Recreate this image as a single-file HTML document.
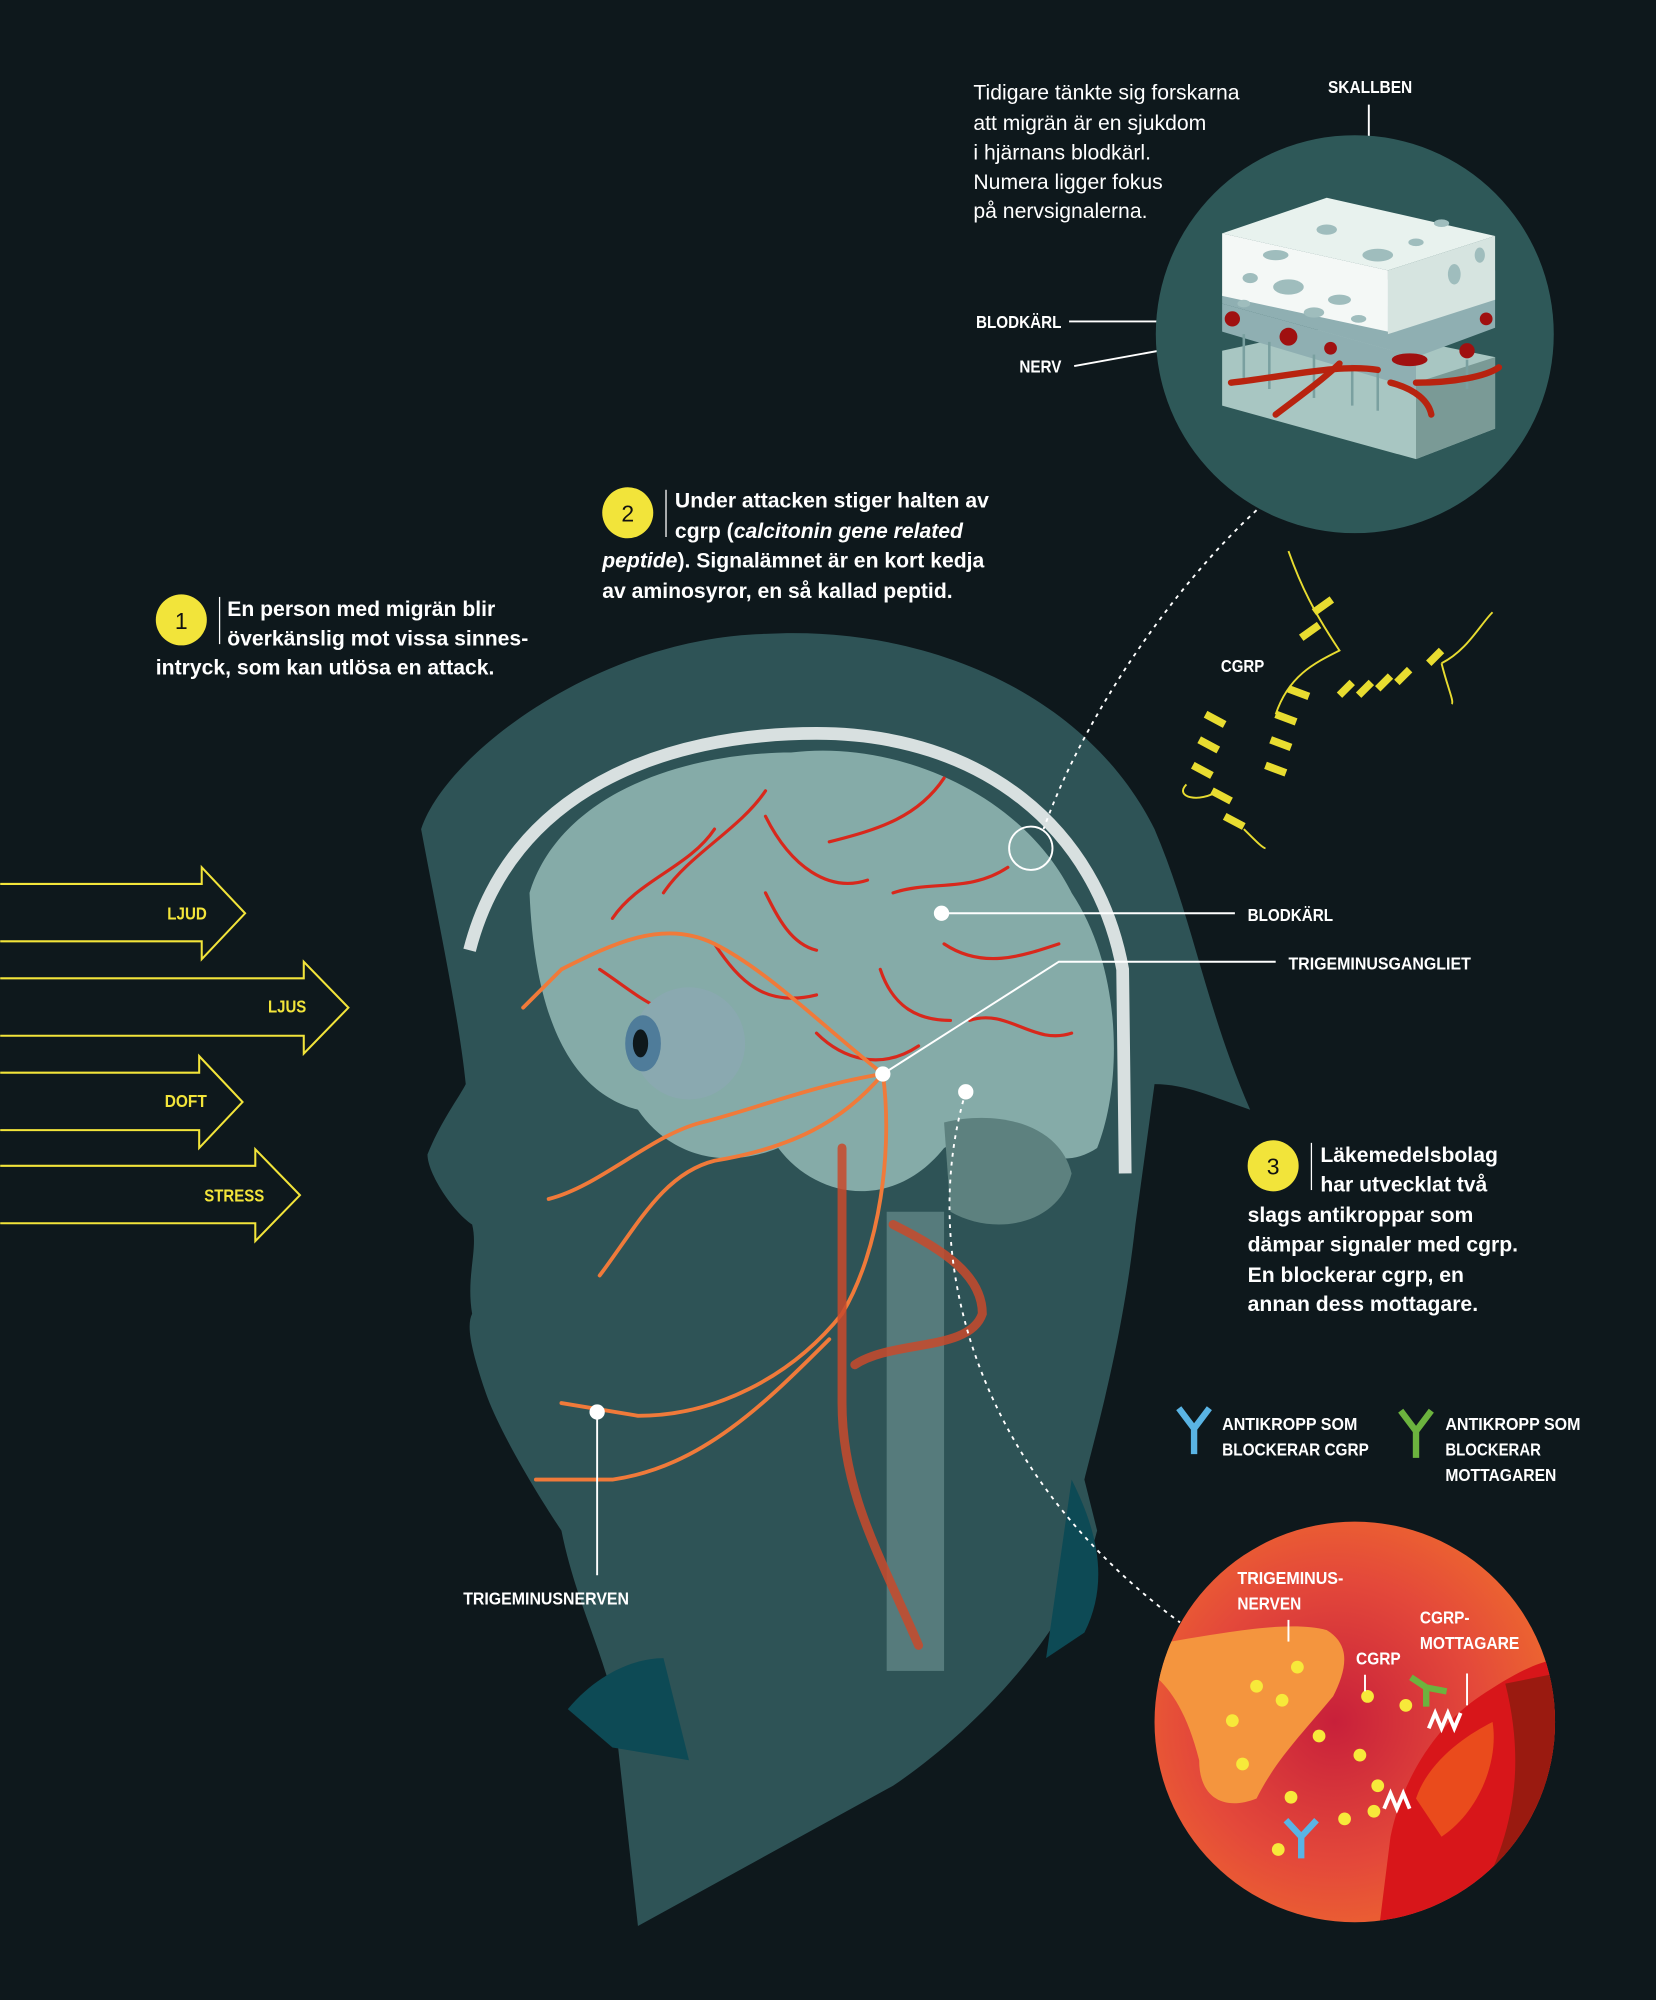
<!DOCTYPE html>
<html><head><meta charset="utf-8"><style>
html,body{margin:0;padding:0;background:#0e181c;}
svg{display:block}
.b{font-family:"Liberation Sans",sans-serif;font-weight:bold;fill:#fff;font-size:16.6px}
.r{font-family:"Liberation Sans",sans-serif;fill:#fff;font-size:16.6px}
.l{font-family:"Liberation Sans",sans-serif;font-weight:bold;fill:#fff;font-size:14px}
.y{fill:#f2e43a}
</style></head><body>
<svg width="1656" height="2000" viewBox="0 0 1298 1568" xmlns="http://www.w3.org/2000/svg">
<defs>
<radialGradient id="rg" cx="0.45" cy="0.5" r="0.6"><stop offset="0" stop-color="#c8203a"/><stop offset="0.6" stop-color="#e4493a"/><stop offset="1" stop-color="#ee6a2e"/></radialGradient>
<clipPath id="c2"><circle cx="1062" cy="1350" r="157"/></clipPath>
<clipPath id="c1"><circle cx="1062" cy="262" r="156"/></clipPath>
</defs>
<rect width="1298" height="1568" fill="#0e181c"/>

<!-- head -->
<path d="M600 497 C720 490 850 540 905 650 C935 720 945 790 980 870 C950 860 930 850 905 850 L890 960 C880 1050 860 1120 850 1160 L860 1200 C840 1280 760 1360 700 1400 L500 1510 L480 1330 C470 1290 450 1250 440 1200 C420 1170 390 1120 380 1090 C370 1060 365 1040 370 1030 C365 1000 375 980 370 960 C355 950 335 920 335 905 C345 880 360 860 365 850 C360 800 345 730 330 650 C350 590 470 500 600 497 Z" fill="#2e5356"/>
<path d="M445 1340 C470 1310 500 1300 520 1300 L540 1380 L480 1370 Z" fill="#0d4a55"/>
<path d="M840 1160 C860 1200 870 1240 850 1280 L820 1300 Z" fill="#0d4a55"/>

<!-- skull arc -->
<path d="M368 745 C400 620 520 575 640 575 C770 575 860 650 880 760 L882 920" fill="none" stroke="#d8e0e0" stroke-width="10"/>

<!-- brain -->
<path d="M415 700 C440 620 540 590 620 590 C700 580 800 620 840 700 C880 760 880 850 860 900 C830 920 800 900 780 880 L740 900 C700 950 640 940 610 900 C560 920 520 900 500 870 C460 860 420 820 415 700 Z" fill="#8fb5b1" opacity="0.9"/>
<path d="M740 880 C780 870 830 880 840 920 C830 960 780 970 745 950 Z" fill="#5d817f"/>
<rect x="695" y="950" width="45" height="360" fill="#7da4a2" opacity="0.5"/>

<!-- vessels -->
<g fill="none" stroke="#d8281c" stroke-width="2.5" stroke-linecap="round">
<path d="M480 720 C500 690 540 680 560 650"/><path d="M520 700 C540 670 580 650 600 620"/><path d="M600 640 C620 680 650 700 680 690"/>
<path d="M650 660 C690 650 720 640 740 610"/><path d="M700 700 C730 690 760 700 790 680"/><path d="M740 740 C770 760 800 750 830 740"/>
<path d="M760 800 C790 790 810 820 840 810"/><path d="M560 740 C580 770 600 790 640 780"/><path d="M640 810 C660 830 690 840 720 820"/>
<path d="M470 760 C500 780 520 800 540 790"/><path d="M600 700 C610 720 620 740 640 745"/><path d="M690 760 C700 790 720 800 745 800"/>
</g>
<g fill="none" stroke="#f07a3a" stroke-width="3" stroke-linecap="round">
<path d="M692 842 C640 800 600 760 560 740 C520 720 480 740 440 760 L410 790"/>
<path d="M692 842 C640 850 590 870 550 880 C510 890 470 930 430 940"/>
<path d="M692 842 C660 880 620 900 560 910 C520 920 500 960 470 1000"/>
<path d="M692 842 C700 900 690 980 660 1030 C620 1080 560 1110 500 1110 L440 1100"/>
<path d="M650 1050 C600 1100 550 1150 480 1160 L420 1160"/>
</g>
<g fill="none" stroke="#c84a2c" stroke-width="7" stroke-linecap="round" opacity="0.85">
<path d="M660 900 L660 1100 C660 1170 690 1220 720 1290"/>
<path d="M700 960 C740 980 770 1000 770 1030 C760 1060 700 1050 670 1070"/>
</g>

<!-- eye -->
<circle cx="540" cy="818" r="44" fill="#8aa9b0"/>
<ellipse cx="504" cy="818" rx="14" ry="22" fill="#4f7c9a"/>
<ellipse cx="502" cy="818" rx="6" ry="11" fill="#0e181c"/>

<!-- dots and leaders -->
<g stroke="#fff" stroke-width="1.5" fill="none">
<line x1="738" y1="716" x2="968" y2="716"/>
<polyline points="692,842 830,754 1000,754"/>
<line x1="468" y1="1107" x2="468" y2="1235"/>
<circle cx="808" cy="665" r="17"/>
<path d="M985 400 C920 460 850 560 818 650" stroke-dasharray="3,4"/>
<path d="M757 856 C720 980 760 1150 925 1272" stroke-dasharray="3,4"/>
<line x1="1073" y1="82" x2="1073" y2="160"/>
<line x1="838" y1="252" x2="962" y2="252"/>
<line x1="842" y1="287" x2="958" y2="266"/>
</g>
<circle cx="738" cy="716" r="6" fill="#fff"/><circle cx="692" cy="842" r="6" fill="#fff"/><circle cx="757" cy="856" r="6" fill="#fff"/><circle cx="468" cy="1107" r="6" fill="#fff"/>

<!-- arrows -->
<g fill="none" stroke="#f2e43a" stroke-width="1.6">
<path d="M0 693 H158 V680 L192 716 L158 752 V738 H0"/>
<path d="M0 767 H238 V754 L273 790 L238 826 V812 H0"/>
<path d="M0 841 H156 V828 L190 864 L156 900 V886 H0"/>
<path d="M0 914 H200 V901 L235 937 L200 973 V959 H0"/>
</g>
<text class="l y" x="131" y="721" textLength="31" lengthAdjust="spacingAndGlyphs">LJUD</text>
<text class="l y" x="210" y="794" textLength="30" lengthAdjust="spacingAndGlyphs">LJUS</text>
<text class="l y" x="129" y="868" textLength="33" lengthAdjust="spacingAndGlyphs">DOFT</text>
<text class="l y" x="160" y="942" textLength="47" lengthAdjust="spacingAndGlyphs">STRESS</text>

<!-- callouts -->
<circle cx="142" cy="486" r="20" fill="#f2e43a"/><text x="142" y="493" text-anchor="middle" style="font-family:'Liberation Sans';font-size:18px;fill:#111">1</text>
<line x1="172" y1="468" x2="172" y2="505" stroke="#fff"/>
<text class="b" x="178" y="483">En person med migrän blir</text>
<text class="b" x="178" y="506">överkänslig mot vissa sinnes-</text>
<text class="b" x="122" y="529">intryck, som kan utlösa en attack.</text>

<circle cx="492" cy="402" r="20" fill="#f2e43a"/><text x="492" y="409" text-anchor="middle" style="font-family:'Liberation Sans';font-size:18px;fill:#111">2</text>
<line x1="522" y1="384" x2="522" y2="421" stroke="#fff"/>
<text class="b" x="529" y="398">Under attacken stiger halten av</text>
<text class="b" x="529" y="422">cgrp (<tspan font-style="italic">calcitonin gene related</tspan></text>
<text class="b" x="472" y="445"><tspan font-style="italic">peptide</tspan>). Signalämnet är en kort kedja</text>
<text class="b" x="472" y="469">av aminosyror, en så kallad peptid.</text>

<circle cx="998" cy="914" r="20" fill="#f2e43a"/><text x="998" y="921" text-anchor="middle" style="font-family:'Liberation Sans';font-size:18px;fill:#111">3</text>
<line x1="1028" y1="896" x2="1028" y2="933" stroke="#fff"/>
<text class="b" x="1035" y="911">Läkemedelsbolag</text>
<text class="b" x="1035" y="934">har utvecklat två</text>
<text class="b" x="978" y="958">slags antikroppar som</text>
<text class="b" x="978" y="981">dämpar signaler med cgrp.</text>
<text class="b" x="978" y="1005">En blockerar cgrp, en</text>
<text class="b" x="978" y="1028">annan dess mottagare.</text>

<text class="r" x="763" y="78">Tidigare tänkte sig forskarna</text>
<text class="r" x="763" y="102">att migrän är en sjukdom</text>
<text class="r" x="763" y="125">i hjärnans blodkärl.</text>
<text class="r" x="763" y="148">Numera ligger fokus</text>
<text class="r" x="763" y="171">på nervsignalerna.</text>

<text class="l" x="1041" y="73" textLength="66" lengthAdjust="spacingAndGlyphs">SKALLBEN</text>
<text class="l" x="765" y="257" textLength="67" lengthAdjust="spacingAndGlyphs">BLODKÄRL</text>
<text class="l" x="799" y="292" textLength="33" lengthAdjust="spacingAndGlyphs">NERV</text>
<text class="l" x="978" y="722" textLength="67" lengthAdjust="spacingAndGlyphs">BLODKÄRL</text>
<text class="l" x="1010" y="760" textLength="143" lengthAdjust="spacingAndGlyphs">TRIGEMINUSGANGLIET</text>
<text class="l" x="363" y="1258" textLength="130" lengthAdjust="spacingAndGlyphs">TRIGEMINUSNERVEN</text>
<text class="l" x="957" y="527" textLength="34" lengthAdjust="spacingAndGlyphs">CGRP</text>

<!-- top circle -->
<circle cx="1062" cy="262" r="156" fill="#2e5858"/>
<g clip-path="url(#c1)">
<polygon points="958,318 1110,360 1172,336 1172,280 1050,255 958,275" fill="#a8c6c2"/>
<polygon points="1110,360 1172,336 1172,280 1110,300" fill="#7a9a96"/>
<polygon points="958,238 1110,280 1172,257 1172,212 958,230" fill="#8fafb2"/>
<polygon points="958,238 958,260 1110,305 1110,280" fill="#8fafb2"/>
<polygon points="958,183 1088,212 1172,185 1040,155" fill="#e8f2ee"/>
<polygon points="958,183 1088,212 1088,260 958,232" fill="#f4f8f6"/>
<polygon points="1088,212 1172,185 1172,235 1088,262" fill="#d6e4e0"/>
<g fill="#9fbdbd"><ellipse cx="1000" cy="200" rx="10" ry="4"/><ellipse cx="1040" cy="180" rx="8" ry="4"/><ellipse cx="1080" cy="200" rx="12" ry="5"/><ellipse cx="1110" cy="190" rx="6" ry="3"/><ellipse cx="1010" cy="225" rx="12" ry="6"/><ellipse cx="1050" cy="235" rx="9" ry="4"/><ellipse cx="980" cy="218" rx="6" ry="4"/><ellipse cx="1140" cy="215" rx="5" ry="8"/><ellipse cx="1030" cy="245" rx="8" ry="4"/><ellipse cx="975" cy="238" rx="5" ry="3"/><ellipse cx="1065" cy="250" rx="6" ry="3"/><ellipse cx="1130" cy="175" rx="6" ry="3"/><ellipse cx="1160" cy="200" rx="4" ry="6"/></g>
<g stroke="#7aa0a0" stroke-width="2"><line x1="975" y1="262" x2="975" y2="300"/><line x1="995" y1="268" x2="995" y2="305"/><line x1="1030" y1="278" x2="1030" y2="312"/><line x1="1060" y1="286" x2="1060" y2="318"/><line x1="1080" y1="290" x2="1080" y2="322"/><line x1="1150" y1="282" x2="1150" y2="305"/></g>
<g fill="none" stroke="#b8230f" stroke-width="5" stroke-linecap="round"><path d="M965 300 C1010 295 1050 285 1080 290"/><path d="M1000 325 C1020 310 1040 295 1050 285"/><path d="M1110 300 C1140 300 1165 295 1175 288"/><path d="M1090 300 C1110 305 1120 315 1122 325"/></g>
<g fill="#a01010"><circle cx="966" cy="250" r="6"/><circle cx="1010" cy="264" r="7"/><circle cx="1043" cy="273" r="5"/><ellipse cx="1105" cy="282" rx="14" ry="5"/><circle cx="1165" cy="250" r="5"/><circle cx="1150" cy="275" r="6"/></g>
</g>

<!-- CGRP helices -->
<g fill="none" stroke="#e8dc30" stroke-width="6">
<path d="M945 560 l15 8 M940 580 l15 8 M935 600 l15 8 M950 620 l15 8 M960 640 l15 8"/>
<path d="M1000 560 l16 6 M996 580 l16 6 M992 600 l16 6 M1010 540 l16 6 M1020 500 l14 -10 M1030 480 l14 -10"/>
<path d="M1050 545 l10 -10 M1065 545 l10 -10 M1080 540 l10 -10 M1095 535 l10 -10 M1120 520 l10 -10"/>
</g>
<g fill="none" stroke="#e8dc30" stroke-width="1.5"><path d="M1010 432 C1020 460 1030 480 1050 510 C1030 520 1010 530 1000 560"/><path d="M955 620 C940 630 920 625 930 615"/><path d="M1130 520 C1150 510 1160 490 1170 480 M1130 520 C1135 540 1140 550 1138 552"/><path d="M975 650 C985 660 990 665 992 665"/></g>

<!-- legend -->
<g stroke-width="5" fill="none" stroke-linecap="butt"><path d="M936 1140 V1120 L924 1104 M936 1120 L948 1104" stroke="#5ab4e4"/><path d="M1110 1143 V1122 L1098 1106 M1110 1122 L1122 1106" stroke="#6cb33e"/></g>
<text class="l" x="958" y="1121" textLength="106" lengthAdjust="spacingAndGlyphs">ANTIKROPP SOM</text><text class="l" x="958" y="1141" textLength="115" lengthAdjust="spacingAndGlyphs">BLOCKERAR CGRP</text>
<text class="l" x="1133" y="1121" textLength="106" lengthAdjust="spacingAndGlyphs">ANTIKROPP SOM</text><text class="l" x="1133" y="1141" textLength="75" lengthAdjust="spacingAndGlyphs">BLOCKERAR</text><text class="l" x="1133" y="1161" textLength="87" lengthAdjust="spacingAndGlyphs">MOTTAGAREN</text>

<!-- bottom circle -->
<circle cx="1062" cy="1350" r="157" fill="url(#rg)"/>
<g clip-path="url(#c2)">
<path d="M900 1290 C960 1280 1010 1270 1040 1278 C1060 1290 1055 1310 1045 1330 C1020 1360 1000 1380 985 1410 C960 1420 940 1410 940 1380 C930 1340 915 1320 900 1310 Z" fill="#f4953e"/>
<path d="M1090 1440 C1100 1390 1130 1350 1160 1330 C1190 1310 1210 1300 1230 1300 L1230 1520 L1080 1520 Z" fill="#d8161a"/>
<path d="M1110 1410 C1120 1380 1150 1360 1170 1350 C1175 1380 1160 1420 1130 1440 Z" fill="#ea4b1c"/>
<path d="M1180 1320 L1230 1310 L1230 1520 L1140 1520 C1180 1460 1200 1400 1180 1320 Z" fill="#9a1a10"/>
</g>
<g fill="#f7e93a"><circle cx="1017" cy="1307" r="5"/><circle cx="985" cy="1322" r="5"/><circle cx="1005" cy="1333" r="5"/><circle cx="966" cy="1349" r="5"/><circle cx="974" cy="1383" r="5"/><circle cx="1072" cy="1330" r="5"/><circle cx="1102" cy="1337" r="5"/><circle cx="1034" cy="1361" r="5"/><circle cx="1066" cy="1376" r="5"/><circle cx="1012" cy="1409" r="5"/><circle cx="1080" cy="1400" r="5"/><circle cx="1077" cy="1420" r="5"/><circle cx="1054" cy="1426" r="5"/><circle cx="1002" cy="1450" r="5"/></g>
<path d="M1020 1457 V1440 L1008 1427 M1020 1440 L1032 1427" stroke="#5ab4e4" stroke-width="5" fill="none"/>
<path d="M1118 1338 L1118 1323 L1106 1315 M1118 1323 L1134 1326" stroke="#6cb33e" stroke-width="5" fill="none"/>
<path d="M1120 1355 l5 -12 l5 12 l5 -12 l5 12 l5 -12" stroke="#fff" stroke-width="3" fill="none"/>
<path d="M1085 1418 l5 -12 l5 12 l5 -12 l5 12" stroke="#fff" stroke-width="3" fill="none"/>
<g stroke="#fff" stroke-width="1.5"><line x1="1010" y1="1270" x2="1010" y2="1287"/><line x1="1070" y1="1313" x2="1070" y2="1326"/><line x1="1150" y1="1312" x2="1150" y2="1337"/></g>
<text class="l" x="970" y="1242" textLength="83" lengthAdjust="spacingAndGlyphs">TRIGEMINUS-</text><text class="l" x="970" y="1262" textLength="50" lengthAdjust="spacingAndGlyphs">NERVEN</text>
<text class="l" x="1063" y="1305" textLength="35" lengthAdjust="spacingAndGlyphs">CGRP</text>
<text class="l" x="1113" y="1273" textLength="39" lengthAdjust="spacingAndGlyphs">CGRP-</text><text class="l" x="1113" y="1293" textLength="78" lengthAdjust="spacingAndGlyphs">MOTTAGARE</text>
</svg>
</body></html>
